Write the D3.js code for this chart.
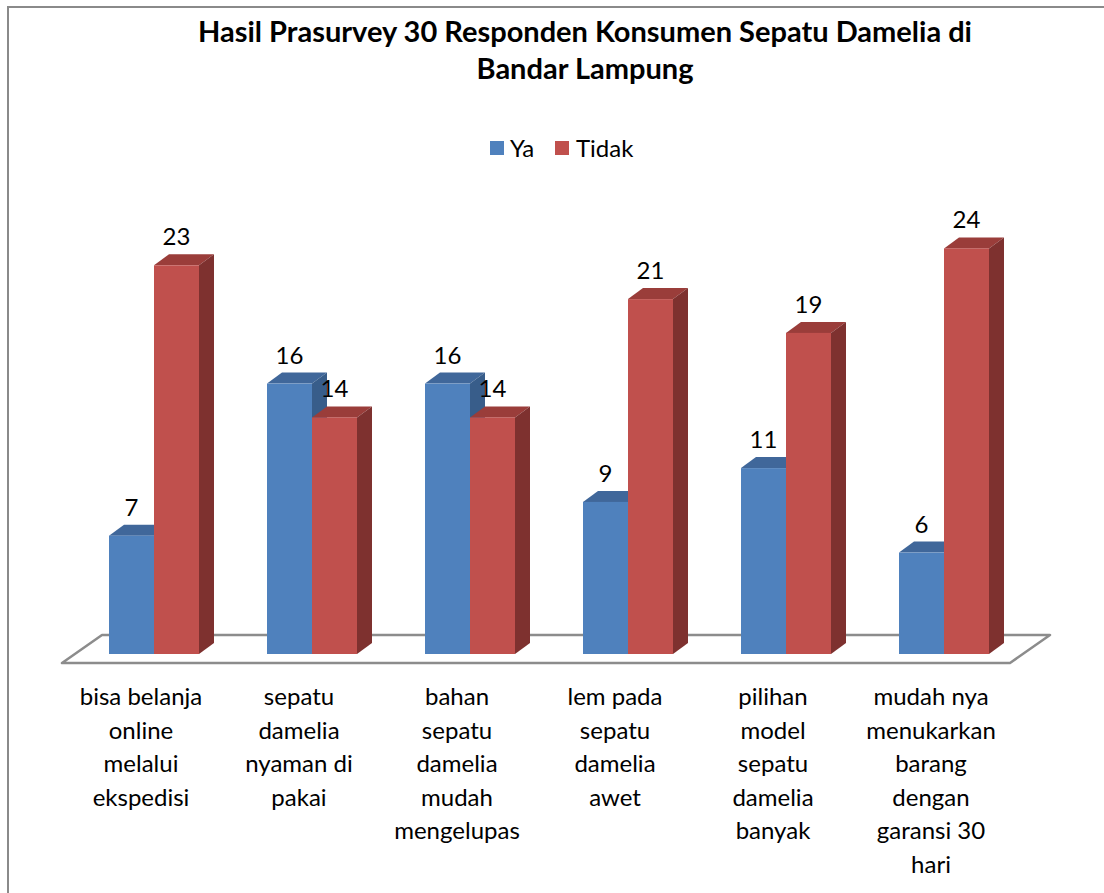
<!DOCTYPE html>
<html>
<head>
<meta charset="utf-8">
<script src="https://cdn.jsdelivr.net/npm/d3@7"></script>
<style>
body{margin:0;background:#fff;}
text{font-family:Lato,"Open Sans",sans-serif;fill:#000;}
</style>
</head>
<body>
<div id="chart"></div>
<script>
const categories=[
  ["bisa belanja","online","melalui","ekspedisi"],
  ["sepatu","damelia","nyaman di","pakai"],
  ["bahan","sepatu","damelia","mudah","mengelupas"],
  ["lem pada","sepatu","damelia","awet"],
  ["pilihan","model","sepatu","damelia","banyak"],
  ["mudah nya","menukarkan","barang","dengan","garansi 30","hari"]
];
const seriesNames=["Ya","Tidak"];
const ya=[7,16,16,9,11,6];
const tidak=[23,14,14,21,19,24];
const colors={
  Ya:{front:"#4f81bd",top:"#40679a",side:"#385d8a"},
  Tidak:{front:"#c0504d",top:"#9a3d3a",side:"#7e312f"}
};

const W=1104,H=893;
const svg=d3.select("#chart").append("svg").attr("width",W).attr("height",H);

// chart border
svg.append("rect").attr("x",8).attr("y",7).attr("width",1120).attr("height",920)
  .attr("fill","#fff").attr("stroke","#8a8a8a").attr("stroke-width",2);

// title
const title=svg.append("text").attr("x",585).attr("text-anchor","middle")
  .style("font-weight","bold").style("font-size","29px");
title.append("tspan").attr("x",585).attr("y",42).text("Hasil Prasurvey 30 Responden Konsumen Sepatu Damelia di");
title.append("tspan").attr("x",585).attr("y",79).text("Bandar Lampung");

// legend
const leg=[{n:"Ya",x:490,tx:510},{n:"Tidak",x:555,tx:576}];
leg.forEach(d=>{
  svg.append("rect").attr("x",d.x).attr("y",141).attr("width",14).attr("height",14).attr("fill",colors[d.n].front);
  svg.append("text").attr("x",d.tx).attr("y",157).style("font-size","24px").text(d.n);
});

// scales
const x=d3.scaleBand().domain(d3.range(categories.length)).range([62,1010]);
const y=d3.scaleLinear().domain([0,25]).range([654,654-25*16.9]);
const floorFront=663, fdx=40, fdy=-28;
const bdx=15, bdy=-11, shift=13, bw=45;

// floor
const fl=x.range();
svg.append("path")
  .attr("d",`M${fl[0]},${floorFront}L${fl[1]},${floorFront}L${fl[1]+fdx},${floorFront+fdy}L${fl[0]+fdx},${floorFront+fdy}Z`)
  .attr("fill","#fff").attr("stroke","#8c8c8c").attr("stroke-width",2.5).attr("stroke-linejoin","round");

const data=categories.map((c,i)=>({i,vals:[{n:"Ya",v:ya[i]},{n:"Tidak",v:tidak[i]}]}));

data.forEach(g=>{
  g.vals.forEach((d,j)=>{
    const x0=x(g.i)+x.bandwidth()/2+shift-bw+j*bw, x1=x0+bw;
    const yt=y(d.v), yb=y(0);
    const c=colors[d.n];
    const grp=svg.append("g");
    grp.append("path").attr("d",`M${x0},${yt}L${x0+bdx},${yt+bdy}L${x1+bdx},${yt+bdy}L${x1},${yt}Z`).attr("fill",c.top);
    grp.append("path").attr("d",`M${x1},${yt}L${x1+bdx},${yt+bdy}L${x1+bdx},${yb+bdy}L${x1},${yb}Z`).attr("fill",c.side);
    grp.append("rect").attr("x",x0).attr("y",yt).attr("width",bw).attr("height",yb-yt).attr("fill",c.front);
    svg.append("text").attr("class","vlab").attr("x",x0+bw/2).attr("y",yt-20)
      .attr("text-anchor","middle").style("font-size","24px").text(d.v);
  });
});
svg.selectAll(".vlab").raise();

// category labels
categories.forEach((lines,i)=>{
  const t=svg.append("text").attr("text-anchor","middle").style("font-size","24px");
  lines.forEach((l,k)=>{
    t.append("tspan").attr("x",x(i)+x.bandwidth()/2).attr("y",705+k*33.5).text(l);
  });
});
</script>
</body>
</html>
